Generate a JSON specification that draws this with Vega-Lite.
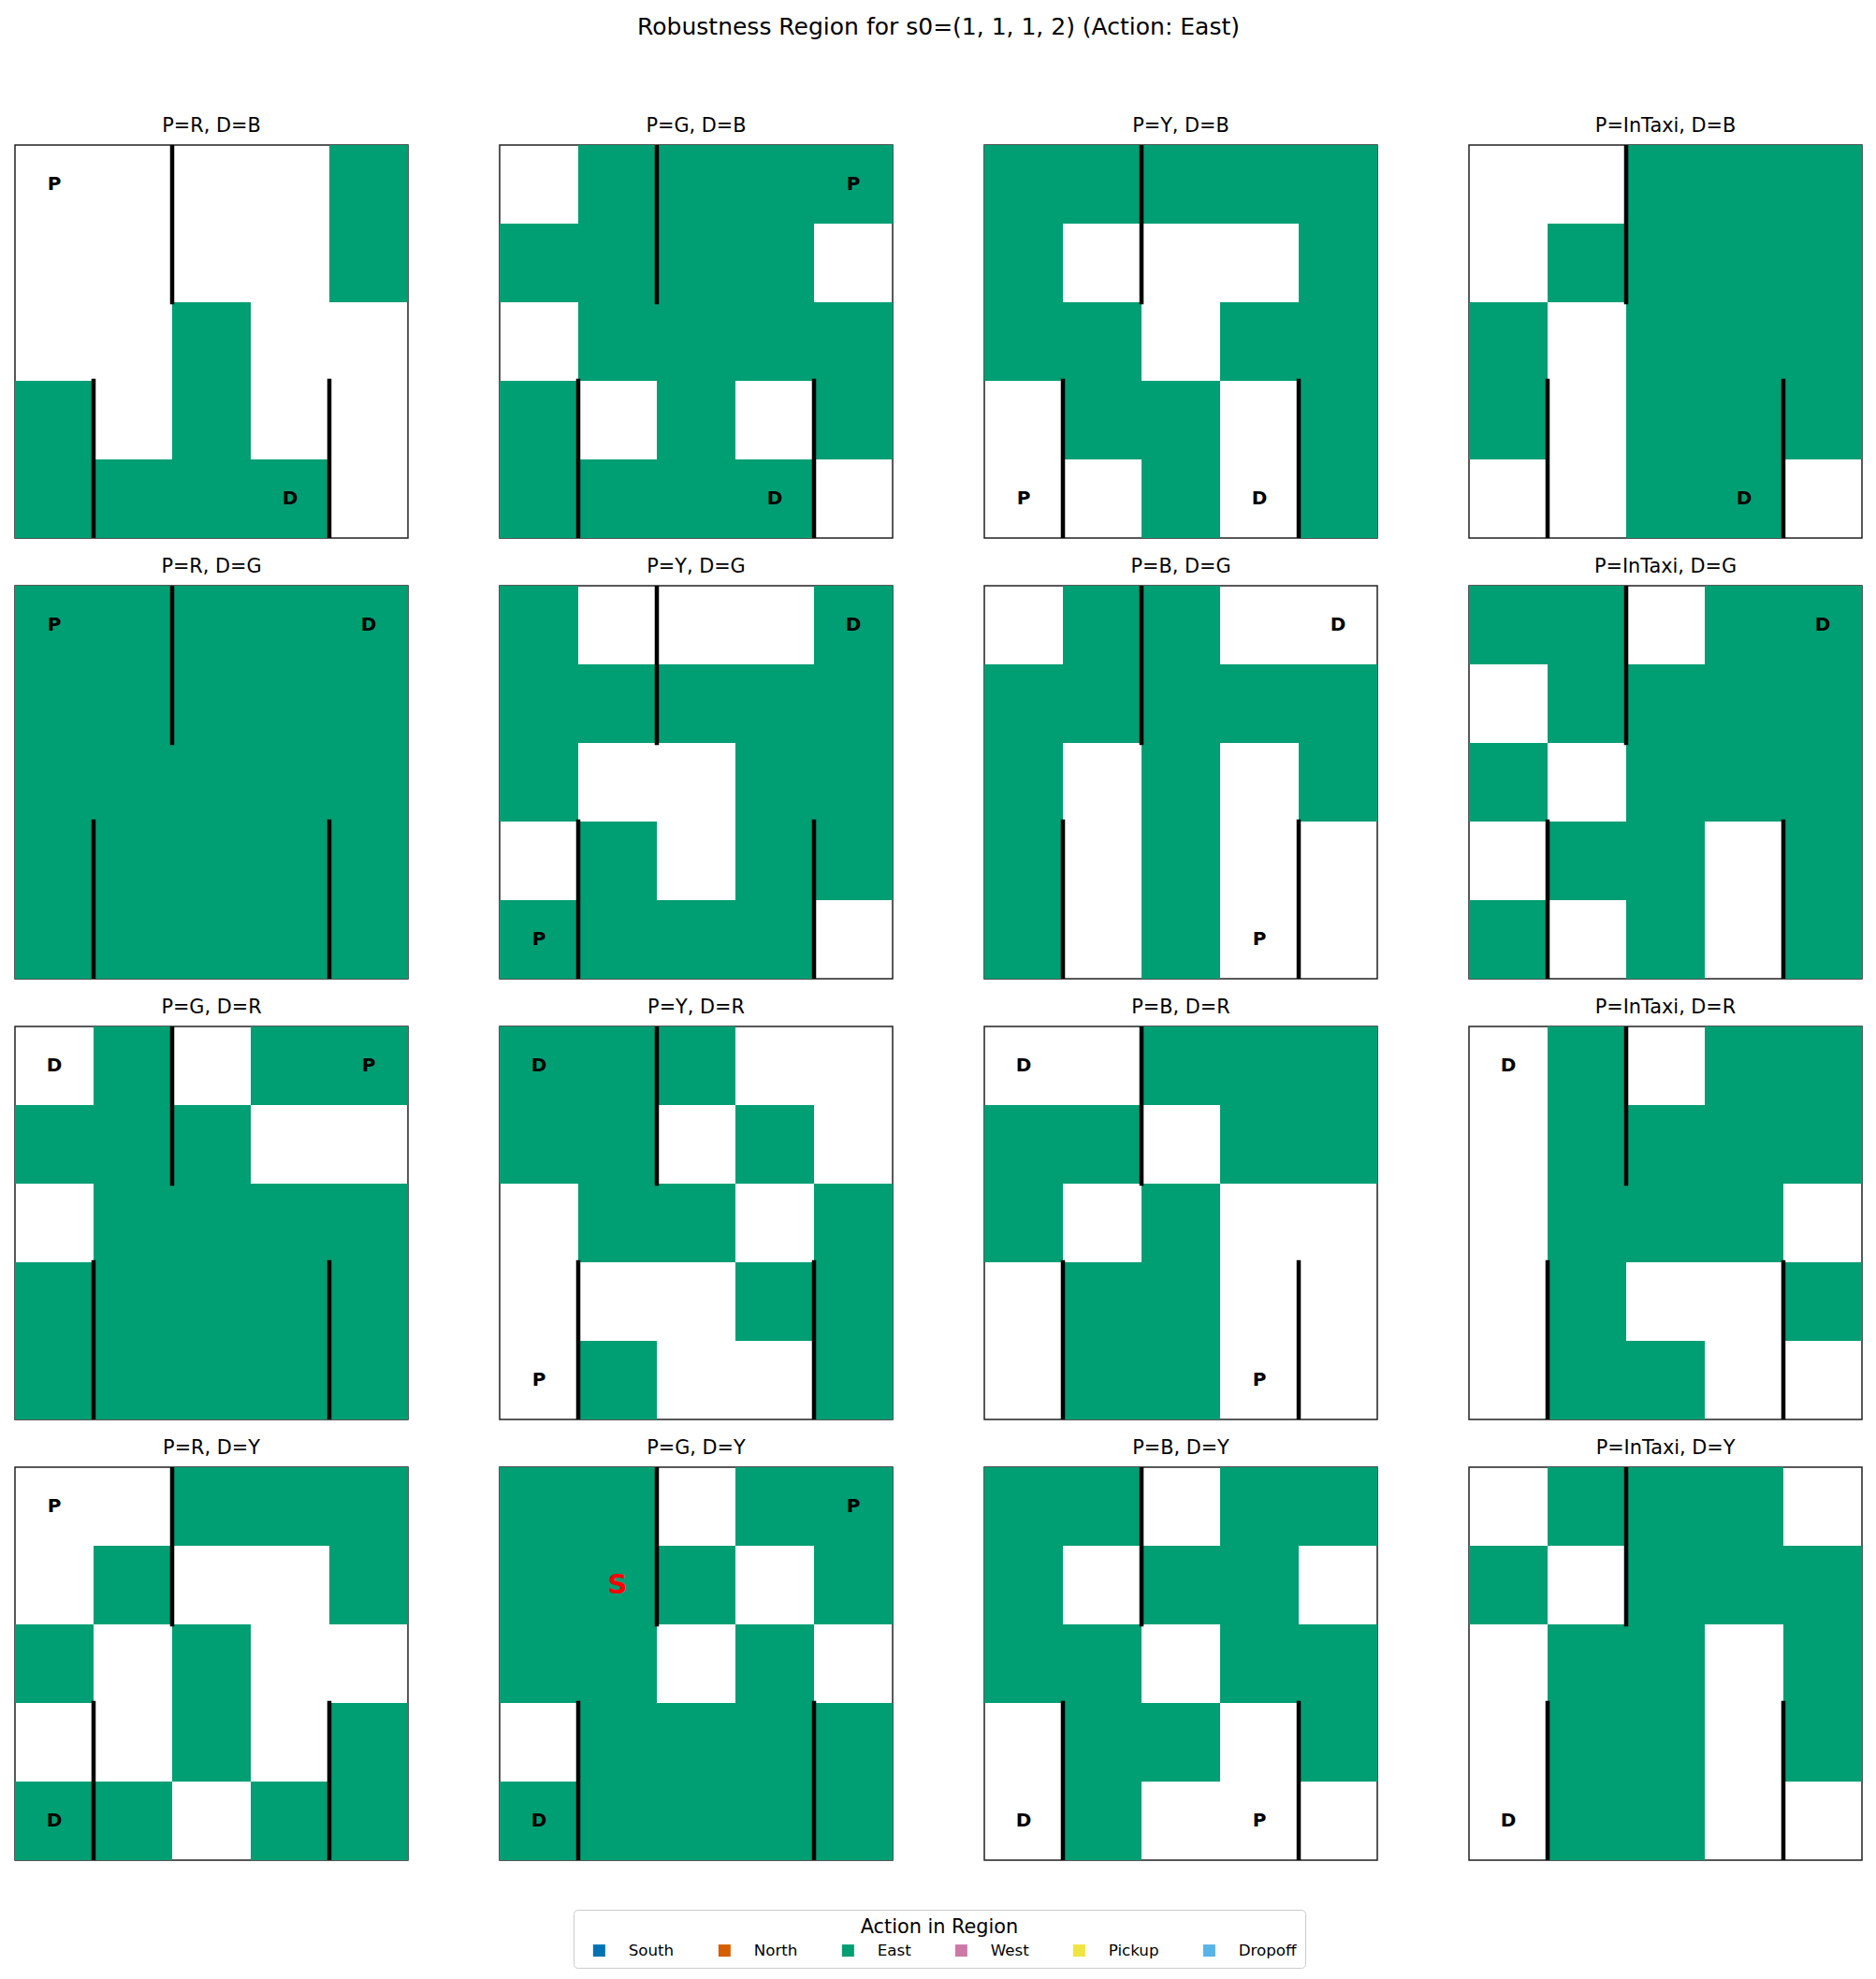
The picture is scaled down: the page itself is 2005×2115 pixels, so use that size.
{
"$schema": "https://vega.github.io/schema/vega-lite/v6.json",
"background": "white",
"padding": {"left": 15, "top": 16, "right": 10, "bottom": 5},
"title": {"text": "Robustness Region for s0=(1, 1, 1, 2) (Action: East)", "fontSize": 25, "font": "DejaVu Sans", "fontWeight": "normal", "color": "black", "anchor": "middle", "offset": 81.5},
"data": {"values": [
{"panel":"P=R, D=B","kind":"cell","row":0,"col":4,"action":"East"},
{"panel":"P=R, D=B","kind":"cell","row":1,"col":4,"action":"East"},
{"panel":"P=R, D=B","kind":"cell","row":2,"col":2,"action":"East"},
{"panel":"P=R, D=B","kind":"cell","row":3,"col":0,"action":"East"},
{"panel":"P=R, D=B","kind":"cell","row":3,"col":2,"action":"East"},
{"panel":"P=R, D=B","kind":"cell","row":4,"col":0,"action":"East"},
{"panel":"P=R, D=B","kind":"cell","row":4,"col":1,"action":"East"},
{"panel":"P=R, D=B","kind":"cell","row":4,"col":2,"action":"East"},
{"panel":"P=R, D=B","kind":"cell","row":4,"col":3,"action":"East"},
{"panel":"P=G, D=B","kind":"cell","row":0,"col":1,"action":"East"},
{"panel":"P=G, D=B","kind":"cell","row":0,"col":2,"action":"East"},
{"panel":"P=G, D=B","kind":"cell","row":0,"col":3,"action":"East"},
{"panel":"P=G, D=B","kind":"cell","row":0,"col":4,"action":"East"},
{"panel":"P=G, D=B","kind":"cell","row":1,"col":0,"action":"East"},
{"panel":"P=G, D=B","kind":"cell","row":1,"col":1,"action":"East"},
{"panel":"P=G, D=B","kind":"cell","row":1,"col":2,"action":"East"},
{"panel":"P=G, D=B","kind":"cell","row":1,"col":3,"action":"East"},
{"panel":"P=G, D=B","kind":"cell","row":2,"col":1,"action":"East"},
{"panel":"P=G, D=B","kind":"cell","row":2,"col":2,"action":"East"},
{"panel":"P=G, D=B","kind":"cell","row":2,"col":3,"action":"East"},
{"panel":"P=G, D=B","kind":"cell","row":2,"col":4,"action":"East"},
{"panel":"P=G, D=B","kind":"cell","row":3,"col":0,"action":"East"},
{"panel":"P=G, D=B","kind":"cell","row":3,"col":2,"action":"East"},
{"panel":"P=G, D=B","kind":"cell","row":3,"col":4,"action":"East"},
{"panel":"P=G, D=B","kind":"cell","row":4,"col":0,"action":"East"},
{"panel":"P=G, D=B","kind":"cell","row":4,"col":1,"action":"East"},
{"panel":"P=G, D=B","kind":"cell","row":4,"col":2,"action":"East"},
{"panel":"P=G, D=B","kind":"cell","row":4,"col":3,"action":"East"},
{"panel":"P=Y, D=B","kind":"cell","row":0,"col":0,"action":"East"},
{"panel":"P=Y, D=B","kind":"cell","row":0,"col":1,"action":"East"},
{"panel":"P=Y, D=B","kind":"cell","row":0,"col":2,"action":"East"},
{"panel":"P=Y, D=B","kind":"cell","row":0,"col":3,"action":"East"},
{"panel":"P=Y, D=B","kind":"cell","row":0,"col":4,"action":"East"},
{"panel":"P=Y, D=B","kind":"cell","row":1,"col":0,"action":"East"},
{"panel":"P=Y, D=B","kind":"cell","row":1,"col":4,"action":"East"},
{"panel":"P=Y, D=B","kind":"cell","row":2,"col":0,"action":"East"},
{"panel":"P=Y, D=B","kind":"cell","row":2,"col":1,"action":"East"},
{"panel":"P=Y, D=B","kind":"cell","row":2,"col":3,"action":"East"},
{"panel":"P=Y, D=B","kind":"cell","row":2,"col":4,"action":"East"},
{"panel":"P=Y, D=B","kind":"cell","row":3,"col":1,"action":"East"},
{"panel":"P=Y, D=B","kind":"cell","row":3,"col":2,"action":"East"},
{"panel":"P=Y, D=B","kind":"cell","row":3,"col":4,"action":"East"},
{"panel":"P=Y, D=B","kind":"cell","row":4,"col":2,"action":"East"},
{"panel":"P=Y, D=B","kind":"cell","row":4,"col":4,"action":"East"},
{"panel":"P=InTaxi, D=B","kind":"cell","row":0,"col":2,"action":"East"},
{"panel":"P=InTaxi, D=B","kind":"cell","row":0,"col":3,"action":"East"},
{"panel":"P=InTaxi, D=B","kind":"cell","row":0,"col":4,"action":"East"},
{"panel":"P=InTaxi, D=B","kind":"cell","row":1,"col":1,"action":"East"},
{"panel":"P=InTaxi, D=B","kind":"cell","row":1,"col":2,"action":"East"},
{"panel":"P=InTaxi, D=B","kind":"cell","row":1,"col":3,"action":"East"},
{"panel":"P=InTaxi, D=B","kind":"cell","row":1,"col":4,"action":"East"},
{"panel":"P=InTaxi, D=B","kind":"cell","row":2,"col":0,"action":"East"},
{"panel":"P=InTaxi, D=B","kind":"cell","row":2,"col":2,"action":"East"},
{"panel":"P=InTaxi, D=B","kind":"cell","row":2,"col":3,"action":"East"},
{"panel":"P=InTaxi, D=B","kind":"cell","row":2,"col":4,"action":"East"},
{"panel":"P=InTaxi, D=B","kind":"cell","row":3,"col":0,"action":"East"},
{"panel":"P=InTaxi, D=B","kind":"cell","row":3,"col":2,"action":"East"},
{"panel":"P=InTaxi, D=B","kind":"cell","row":3,"col":3,"action":"East"},
{"panel":"P=InTaxi, D=B","kind":"cell","row":3,"col":4,"action":"East"},
{"panel":"P=InTaxi, D=B","kind":"cell","row":4,"col":2,"action":"East"},
{"panel":"P=InTaxi, D=B","kind":"cell","row":4,"col":3,"action":"East"},
{"panel":"P=R, D=G","kind":"cell","row":0,"col":0,"action":"East"},
{"panel":"P=R, D=G","kind":"cell","row":0,"col":1,"action":"East"},
{"panel":"P=R, D=G","kind":"cell","row":0,"col":2,"action":"East"},
{"panel":"P=R, D=G","kind":"cell","row":0,"col":3,"action":"East"},
{"panel":"P=R, D=G","kind":"cell","row":0,"col":4,"action":"East"},
{"panel":"P=R, D=G","kind":"cell","row":1,"col":0,"action":"East"},
{"panel":"P=R, D=G","kind":"cell","row":1,"col":1,"action":"East"},
{"panel":"P=R, D=G","kind":"cell","row":1,"col":2,"action":"East"},
{"panel":"P=R, D=G","kind":"cell","row":1,"col":3,"action":"East"},
{"panel":"P=R, D=G","kind":"cell","row":1,"col":4,"action":"East"},
{"panel":"P=R, D=G","kind":"cell","row":2,"col":0,"action":"East"},
{"panel":"P=R, D=G","kind":"cell","row":2,"col":1,"action":"East"},
{"panel":"P=R, D=G","kind":"cell","row":2,"col":2,"action":"East"},
{"panel":"P=R, D=G","kind":"cell","row":2,"col":3,"action":"East"},
{"panel":"P=R, D=G","kind":"cell","row":2,"col":4,"action":"East"},
{"panel":"P=R, D=G","kind":"cell","row":3,"col":0,"action":"East"},
{"panel":"P=R, D=G","kind":"cell","row":3,"col":1,"action":"East"},
{"panel":"P=R, D=G","kind":"cell","row":3,"col":2,"action":"East"},
{"panel":"P=R, D=G","kind":"cell","row":3,"col":3,"action":"East"},
{"panel":"P=R, D=G","kind":"cell","row":3,"col":4,"action":"East"},
{"panel":"P=R, D=G","kind":"cell","row":4,"col":0,"action":"East"},
{"panel":"P=R, D=G","kind":"cell","row":4,"col":1,"action":"East"},
{"panel":"P=R, D=G","kind":"cell","row":4,"col":2,"action":"East"},
{"panel":"P=R, D=G","kind":"cell","row":4,"col":3,"action":"East"},
{"panel":"P=R, D=G","kind":"cell","row":4,"col":4,"action":"East"},
{"panel":"P=Y, D=G","kind":"cell","row":0,"col":0,"action":"East"},
{"panel":"P=Y, D=G","kind":"cell","row":0,"col":4,"action":"East"},
{"panel":"P=Y, D=G","kind":"cell","row":1,"col":0,"action":"East"},
{"panel":"P=Y, D=G","kind":"cell","row":1,"col":1,"action":"East"},
{"panel":"P=Y, D=G","kind":"cell","row":1,"col":2,"action":"East"},
{"panel":"P=Y, D=G","kind":"cell","row":1,"col":3,"action":"East"},
{"panel":"P=Y, D=G","kind":"cell","row":1,"col":4,"action":"East"},
{"panel":"P=Y, D=G","kind":"cell","row":2,"col":0,"action":"East"},
{"panel":"P=Y, D=G","kind":"cell","row":2,"col":3,"action":"East"},
{"panel":"P=Y, D=G","kind":"cell","row":2,"col":4,"action":"East"},
{"panel":"P=Y, D=G","kind":"cell","row":3,"col":1,"action":"East"},
{"panel":"P=Y, D=G","kind":"cell","row":3,"col":3,"action":"East"},
{"panel":"P=Y, D=G","kind":"cell","row":3,"col":4,"action":"East"},
{"panel":"P=Y, D=G","kind":"cell","row":4,"col":0,"action":"East"},
{"panel":"P=Y, D=G","kind":"cell","row":4,"col":1,"action":"East"},
{"panel":"P=Y, D=G","kind":"cell","row":4,"col":2,"action":"East"},
{"panel":"P=Y, D=G","kind":"cell","row":4,"col":3,"action":"East"},
{"panel":"P=B, D=G","kind":"cell","row":0,"col":1,"action":"East"},
{"panel":"P=B, D=G","kind":"cell","row":0,"col":2,"action":"East"},
{"panel":"P=B, D=G","kind":"cell","row":1,"col":0,"action":"East"},
{"panel":"P=B, D=G","kind":"cell","row":1,"col":1,"action":"East"},
{"panel":"P=B, D=G","kind":"cell","row":1,"col":2,"action":"East"},
{"panel":"P=B, D=G","kind":"cell","row":1,"col":3,"action":"East"},
{"panel":"P=B, D=G","kind":"cell","row":1,"col":4,"action":"East"},
{"panel":"P=B, D=G","kind":"cell","row":2,"col":0,"action":"East"},
{"panel":"P=B, D=G","kind":"cell","row":2,"col":2,"action":"East"},
{"panel":"P=B, D=G","kind":"cell","row":2,"col":4,"action":"East"},
{"panel":"P=B, D=G","kind":"cell","row":3,"col":0,"action":"East"},
{"panel":"P=B, D=G","kind":"cell","row":3,"col":2,"action":"East"},
{"panel":"P=B, D=G","kind":"cell","row":4,"col":0,"action":"East"},
{"panel":"P=B, D=G","kind":"cell","row":4,"col":2,"action":"East"},
{"panel":"P=InTaxi, D=G","kind":"cell","row":0,"col":0,"action":"East"},
{"panel":"P=InTaxi, D=G","kind":"cell","row":0,"col":1,"action":"East"},
{"panel":"P=InTaxi, D=G","kind":"cell","row":0,"col":3,"action":"East"},
{"panel":"P=InTaxi, D=G","kind":"cell","row":0,"col":4,"action":"East"},
{"panel":"P=InTaxi, D=G","kind":"cell","row":1,"col":1,"action":"East"},
{"panel":"P=InTaxi, D=G","kind":"cell","row":1,"col":2,"action":"East"},
{"panel":"P=InTaxi, D=G","kind":"cell","row":1,"col":3,"action":"East"},
{"panel":"P=InTaxi, D=G","kind":"cell","row":1,"col":4,"action":"East"},
{"panel":"P=InTaxi, D=G","kind":"cell","row":2,"col":0,"action":"East"},
{"panel":"P=InTaxi, D=G","kind":"cell","row":2,"col":2,"action":"East"},
{"panel":"P=InTaxi, D=G","kind":"cell","row":2,"col":3,"action":"East"},
{"panel":"P=InTaxi, D=G","kind":"cell","row":2,"col":4,"action":"East"},
{"panel":"P=InTaxi, D=G","kind":"cell","row":3,"col":1,"action":"East"},
{"panel":"P=InTaxi, D=G","kind":"cell","row":3,"col":2,"action":"East"},
{"panel":"P=InTaxi, D=G","kind":"cell","row":3,"col":4,"action":"East"},
{"panel":"P=InTaxi, D=G","kind":"cell","row":4,"col":0,"action":"East"},
{"panel":"P=InTaxi, D=G","kind":"cell","row":4,"col":2,"action":"East"},
{"panel":"P=InTaxi, D=G","kind":"cell","row":4,"col":4,"action":"East"},
{"panel":"P=G, D=R","kind":"cell","row":0,"col":1,"action":"East"},
{"panel":"P=G, D=R","kind":"cell","row":0,"col":3,"action":"East"},
{"panel":"P=G, D=R","kind":"cell","row":0,"col":4,"action":"East"},
{"panel":"P=G, D=R","kind":"cell","row":1,"col":0,"action":"East"},
{"panel":"P=G, D=R","kind":"cell","row":1,"col":1,"action":"East"},
{"panel":"P=G, D=R","kind":"cell","row":1,"col":2,"action":"East"},
{"panel":"P=G, D=R","kind":"cell","row":2,"col":1,"action":"East"},
{"panel":"P=G, D=R","kind":"cell","row":2,"col":2,"action":"East"},
{"panel":"P=G, D=R","kind":"cell","row":2,"col":3,"action":"East"},
{"panel":"P=G, D=R","kind":"cell","row":2,"col":4,"action":"East"},
{"panel":"P=G, D=R","kind":"cell","row":3,"col":0,"action":"East"},
{"panel":"P=G, D=R","kind":"cell","row":3,"col":1,"action":"East"},
{"panel":"P=G, D=R","kind":"cell","row":3,"col":2,"action":"East"},
{"panel":"P=G, D=R","kind":"cell","row":3,"col":3,"action":"East"},
{"panel":"P=G, D=R","kind":"cell","row":3,"col":4,"action":"East"},
{"panel":"P=G, D=R","kind":"cell","row":4,"col":0,"action":"East"},
{"panel":"P=G, D=R","kind":"cell","row":4,"col":1,"action":"East"},
{"panel":"P=G, D=R","kind":"cell","row":4,"col":2,"action":"East"},
{"panel":"P=G, D=R","kind":"cell","row":4,"col":3,"action":"East"},
{"panel":"P=G, D=R","kind":"cell","row":4,"col":4,"action":"East"},
{"panel":"P=Y, D=R","kind":"cell","row":0,"col":0,"action":"East"},
{"panel":"P=Y, D=R","kind":"cell","row":0,"col":1,"action":"East"},
{"panel":"P=Y, D=R","kind":"cell","row":0,"col":2,"action":"East"},
{"panel":"P=Y, D=R","kind":"cell","row":1,"col":0,"action":"East"},
{"panel":"P=Y, D=R","kind":"cell","row":1,"col":1,"action":"East"},
{"panel":"P=Y, D=R","kind":"cell","row":1,"col":3,"action":"East"},
{"panel":"P=Y, D=R","kind":"cell","row":2,"col":1,"action":"East"},
{"panel":"P=Y, D=R","kind":"cell","row":2,"col":2,"action":"East"},
{"panel":"P=Y, D=R","kind":"cell","row":2,"col":4,"action":"East"},
{"panel":"P=Y, D=R","kind":"cell","row":3,"col":3,"action":"East"},
{"panel":"P=Y, D=R","kind":"cell","row":3,"col":4,"action":"East"},
{"panel":"P=Y, D=R","kind":"cell","row":4,"col":1,"action":"East"},
{"panel":"P=Y, D=R","kind":"cell","row":4,"col":4,"action":"East"},
{"panel":"P=B, D=R","kind":"cell","row":0,"col":2,"action":"East"},
{"panel":"P=B, D=R","kind":"cell","row":0,"col":3,"action":"East"},
{"panel":"P=B, D=R","kind":"cell","row":0,"col":4,"action":"East"},
{"panel":"P=B, D=R","kind":"cell","row":1,"col":0,"action":"East"},
{"panel":"P=B, D=R","kind":"cell","row":1,"col":1,"action":"East"},
{"panel":"P=B, D=R","kind":"cell","row":1,"col":3,"action":"East"},
{"panel":"P=B, D=R","kind":"cell","row":1,"col":4,"action":"East"},
{"panel":"P=B, D=R","kind":"cell","row":2,"col":0,"action":"East"},
{"panel":"P=B, D=R","kind":"cell","row":2,"col":2,"action":"East"},
{"panel":"P=B, D=R","kind":"cell","row":3,"col":1,"action":"East"},
{"panel":"P=B, D=R","kind":"cell","row":3,"col":2,"action":"East"},
{"panel":"P=B, D=R","kind":"cell","row":4,"col":1,"action":"East"},
{"panel":"P=B, D=R","kind":"cell","row":4,"col":2,"action":"East"},
{"panel":"P=InTaxi, D=R","kind":"cell","row":0,"col":1,"action":"East"},
{"panel":"P=InTaxi, D=R","kind":"cell","row":0,"col":3,"action":"East"},
{"panel":"P=InTaxi, D=R","kind":"cell","row":0,"col":4,"action":"East"},
{"panel":"P=InTaxi, D=R","kind":"cell","row":1,"col":1,"action":"East"},
{"panel":"P=InTaxi, D=R","kind":"cell","row":1,"col":2,"action":"East"},
{"panel":"P=InTaxi, D=R","kind":"cell","row":1,"col":3,"action":"East"},
{"panel":"P=InTaxi, D=R","kind":"cell","row":1,"col":4,"action":"East"},
{"panel":"P=InTaxi, D=R","kind":"cell","row":2,"col":1,"action":"East"},
{"panel":"P=InTaxi, D=R","kind":"cell","row":2,"col":2,"action":"East"},
{"panel":"P=InTaxi, D=R","kind":"cell","row":2,"col":3,"action":"East"},
{"panel":"P=InTaxi, D=R","kind":"cell","row":3,"col":1,"action":"East"},
{"panel":"P=InTaxi, D=R","kind":"cell","row":3,"col":4,"action":"East"},
{"panel":"P=InTaxi, D=R","kind":"cell","row":4,"col":1,"action":"East"},
{"panel":"P=InTaxi, D=R","kind":"cell","row":4,"col":2,"action":"East"},
{"panel":"P=R, D=Y","kind":"cell","row":0,"col":2,"action":"East"},
{"panel":"P=R, D=Y","kind":"cell","row":0,"col":3,"action":"East"},
{"panel":"P=R, D=Y","kind":"cell","row":0,"col":4,"action":"East"},
{"panel":"P=R, D=Y","kind":"cell","row":1,"col":1,"action":"East"},
{"panel":"P=R, D=Y","kind":"cell","row":1,"col":4,"action":"East"},
{"panel":"P=R, D=Y","kind":"cell","row":2,"col":0,"action":"East"},
{"panel":"P=R, D=Y","kind":"cell","row":2,"col":2,"action":"East"},
{"panel":"P=R, D=Y","kind":"cell","row":3,"col":2,"action":"East"},
{"panel":"P=R, D=Y","kind":"cell","row":3,"col":4,"action":"East"},
{"panel":"P=R, D=Y","kind":"cell","row":4,"col":0,"action":"East"},
{"panel":"P=R, D=Y","kind":"cell","row":4,"col":1,"action":"East"},
{"panel":"P=R, D=Y","kind":"cell","row":4,"col":3,"action":"East"},
{"panel":"P=R, D=Y","kind":"cell","row":4,"col":4,"action":"East"},
{"panel":"P=G, D=Y","kind":"cell","row":0,"col":0,"action":"East"},
{"panel":"P=G, D=Y","kind":"cell","row":0,"col":1,"action":"East"},
{"panel":"P=G, D=Y","kind":"cell","row":0,"col":3,"action":"East"},
{"panel":"P=G, D=Y","kind":"cell","row":0,"col":4,"action":"East"},
{"panel":"P=G, D=Y","kind":"cell","row":1,"col":0,"action":"East"},
{"panel":"P=G, D=Y","kind":"cell","row":1,"col":1,"action":"East"},
{"panel":"P=G, D=Y","kind":"cell","row":1,"col":2,"action":"East"},
{"panel":"P=G, D=Y","kind":"cell","row":1,"col":4,"action":"East"},
{"panel":"P=G, D=Y","kind":"cell","row":2,"col":0,"action":"East"},
{"panel":"P=G, D=Y","kind":"cell","row":2,"col":1,"action":"East"},
{"panel":"P=G, D=Y","kind":"cell","row":2,"col":3,"action":"East"},
{"panel":"P=G, D=Y","kind":"cell","row":3,"col":1,"action":"East"},
{"panel":"P=G, D=Y","kind":"cell","row":3,"col":2,"action":"East"},
{"panel":"P=G, D=Y","kind":"cell","row":3,"col":3,"action":"East"},
{"panel":"P=G, D=Y","kind":"cell","row":3,"col":4,"action":"East"},
{"panel":"P=G, D=Y","kind":"cell","row":4,"col":0,"action":"East"},
{"panel":"P=G, D=Y","kind":"cell","row":4,"col":1,"action":"East"},
{"panel":"P=G, D=Y","kind":"cell","row":4,"col":2,"action":"East"},
{"panel":"P=G, D=Y","kind":"cell","row":4,"col":3,"action":"East"},
{"panel":"P=G, D=Y","kind":"cell","row":4,"col":4,"action":"East"},
{"panel":"P=B, D=Y","kind":"cell","row":0,"col":0,"action":"East"},
{"panel":"P=B, D=Y","kind":"cell","row":0,"col":1,"action":"East"},
{"panel":"P=B, D=Y","kind":"cell","row":0,"col":3,"action":"East"},
{"panel":"P=B, D=Y","kind":"cell","row":0,"col":4,"action":"East"},
{"panel":"P=B, D=Y","kind":"cell","row":1,"col":0,"action":"East"},
{"panel":"P=B, D=Y","kind":"cell","row":1,"col":2,"action":"East"},
{"panel":"P=B, D=Y","kind":"cell","row":1,"col":3,"action":"East"},
{"panel":"P=B, D=Y","kind":"cell","row":2,"col":0,"action":"East"},
{"panel":"P=B, D=Y","kind":"cell","row":2,"col":1,"action":"East"},
{"panel":"P=B, D=Y","kind":"cell","row":2,"col":3,"action":"East"},
{"panel":"P=B, D=Y","kind":"cell","row":2,"col":4,"action":"East"},
{"panel":"P=B, D=Y","kind":"cell","row":3,"col":1,"action":"East"},
{"panel":"P=B, D=Y","kind":"cell","row":3,"col":2,"action":"East"},
{"panel":"P=B, D=Y","kind":"cell","row":3,"col":4,"action":"East"},
{"panel":"P=B, D=Y","kind":"cell","row":4,"col":1,"action":"East"},
{"panel":"P=InTaxi, D=Y","kind":"cell","row":0,"col":1,"action":"East"},
{"panel":"P=InTaxi, D=Y","kind":"cell","row":0,"col":2,"action":"East"},
{"panel":"P=InTaxi, D=Y","kind":"cell","row":0,"col":3,"action":"East"},
{"panel":"P=InTaxi, D=Y","kind":"cell","row":1,"col":0,"action":"East"},
{"panel":"P=InTaxi, D=Y","kind":"cell","row":1,"col":2,"action":"East"},
{"panel":"P=InTaxi, D=Y","kind":"cell","row":1,"col":3,"action":"East"},
{"panel":"P=InTaxi, D=Y","kind":"cell","row":1,"col":4,"action":"East"},
{"panel":"P=InTaxi, D=Y","kind":"cell","row":2,"col":1,"action":"East"},
{"panel":"P=InTaxi, D=Y","kind":"cell","row":2,"col":2,"action":"East"},
{"panel":"P=InTaxi, D=Y","kind":"cell","row":2,"col":4,"action":"East"},
{"panel":"P=InTaxi, D=Y","kind":"cell","row":3,"col":1,"action":"East"},
{"panel":"P=InTaxi, D=Y","kind":"cell","row":3,"col":2,"action":"East"},
{"panel":"P=InTaxi, D=Y","kind":"cell","row":3,"col":4,"action":"East"},
{"panel":"P=InTaxi, D=Y","kind":"cell","row":4,"col":1,"action":"East"},
{"panel":"P=InTaxi, D=Y","kind":"cell","row":4,"col":2,"action":"East"},
{"panel":"P=R, D=B","kind":"label","row":0,"col":0,"label":"P"},
{"panel":"P=R, D=B","kind":"label","row":4,"col":3,"label":"D"},
{"panel":"P=G, D=B","kind":"label","row":0,"col":4,"label":"P"},
{"panel":"P=G, D=B","kind":"label","row":4,"col":3,"label":"D"},
{"panel":"P=Y, D=B","kind":"label","row":4,"col":0,"label":"P"},
{"panel":"P=Y, D=B","kind":"label","row":4,"col":3,"label":"D"},
{"panel":"P=InTaxi, D=B","kind":"label","row":4,"col":3,"label":"D"},
{"panel":"P=R, D=G","kind":"label","row":0,"col":0,"label":"P"},
{"panel":"P=R, D=G","kind":"label","row":0,"col":4,"label":"D"},
{"panel":"P=Y, D=G","kind":"label","row":4,"col":0,"label":"P"},
{"panel":"P=Y, D=G","kind":"label","row":0,"col":4,"label":"D"},
{"panel":"P=B, D=G","kind":"label","row":4,"col":3,"label":"P"},
{"panel":"P=B, D=G","kind":"label","row":0,"col":4,"label":"D"},
{"panel":"P=InTaxi, D=G","kind":"label","row":0,"col":4,"label":"D"},
{"panel":"P=G, D=R","kind":"label","row":0,"col":4,"label":"P"},
{"panel":"P=G, D=R","kind":"label","row":0,"col":0,"label":"D"},
{"panel":"P=Y, D=R","kind":"label","row":4,"col":0,"label":"P"},
{"panel":"P=Y, D=R","kind":"label","row":0,"col":0,"label":"D"},
{"panel":"P=B, D=R","kind":"label","row":4,"col":3,"label":"P"},
{"panel":"P=B, D=R","kind":"label","row":0,"col":0,"label":"D"},
{"panel":"P=InTaxi, D=R","kind":"label","row":0,"col":0,"label":"D"},
{"panel":"P=R, D=Y","kind":"label","row":0,"col":0,"label":"P"},
{"panel":"P=R, D=Y","kind":"label","row":4,"col":0,"label":"D"},
{"panel":"P=G, D=Y","kind":"label","row":0,"col":4,"label":"P"},
{"panel":"P=G, D=Y","kind":"label","row":4,"col":0,"label":"D"},
{"panel":"P=G, D=Y","kind":"label","row":1,"col":1,"label":"S"},
{"panel":"P=B, D=Y","kind":"label","row":4,"col":3,"label":"P"},
{"panel":"P=B, D=Y","kind":"label","row":4,"col":0,"label":"D"},
{"panel":"P=InTaxi, D=Y","kind":"label","row":4,"col":0,"label":"D"},
{"panel":"P=R, D=B","kind":"wall","x":2,"y":0,"y2":2},{"panel":"P=R, D=B","kind":"wall","x":1,"y":3,"y2":5},{"panel":"P=R, D=B","kind":"wall","x":4,"y":3,"y2":5},
{"panel":"P=G, D=B","kind":"wall","x":2,"y":0,"y2":2},{"panel":"P=G, D=B","kind":"wall","x":1,"y":3,"y2":5},{"panel":"P=G, D=B","kind":"wall","x":4,"y":3,"y2":5},
{"panel":"P=Y, D=B","kind":"wall","x":2,"y":0,"y2":2},{"panel":"P=Y, D=B","kind":"wall","x":1,"y":3,"y2":5},{"panel":"P=Y, D=B","kind":"wall","x":4,"y":3,"y2":5},
{"panel":"P=InTaxi, D=B","kind":"wall","x":2,"y":0,"y2":2},{"panel":"P=InTaxi, D=B","kind":"wall","x":1,"y":3,"y2":5},{"panel":"P=InTaxi, D=B","kind":"wall","x":4,"y":3,"y2":5},
{"panel":"P=R, D=G","kind":"wall","x":2,"y":0,"y2":2},{"panel":"P=R, D=G","kind":"wall","x":1,"y":3,"y2":5},{"panel":"P=R, D=G","kind":"wall","x":4,"y":3,"y2":5},
{"panel":"P=Y, D=G","kind":"wall","x":2,"y":0,"y2":2},{"panel":"P=Y, D=G","kind":"wall","x":1,"y":3,"y2":5},{"panel":"P=Y, D=G","kind":"wall","x":4,"y":3,"y2":5},
{"panel":"P=B, D=G","kind":"wall","x":2,"y":0,"y2":2},{"panel":"P=B, D=G","kind":"wall","x":1,"y":3,"y2":5},{"panel":"P=B, D=G","kind":"wall","x":4,"y":3,"y2":5},
{"panel":"P=InTaxi, D=G","kind":"wall","x":2,"y":0,"y2":2},{"panel":"P=InTaxi, D=G","kind":"wall","x":1,"y":3,"y2":5},{"panel":"P=InTaxi, D=G","kind":"wall","x":4,"y":3,"y2":5},
{"panel":"P=G, D=R","kind":"wall","x":2,"y":0,"y2":2},{"panel":"P=G, D=R","kind":"wall","x":1,"y":3,"y2":5},{"panel":"P=G, D=R","kind":"wall","x":4,"y":3,"y2":5},
{"panel":"P=Y, D=R","kind":"wall","x":2,"y":0,"y2":2},{"panel":"P=Y, D=R","kind":"wall","x":1,"y":3,"y2":5},{"panel":"P=Y, D=R","kind":"wall","x":4,"y":3,"y2":5},
{"panel":"P=B, D=R","kind":"wall","x":2,"y":0,"y2":2},{"panel":"P=B, D=R","kind":"wall","x":1,"y":3,"y2":5},{"panel":"P=B, D=R","kind":"wall","x":4,"y":3,"y2":5},
{"panel":"P=InTaxi, D=R","kind":"wall","x":2,"y":0,"y2":2},{"panel":"P=InTaxi, D=R","kind":"wall","x":1,"y":3,"y2":5},{"panel":"P=InTaxi, D=R","kind":"wall","x":4,"y":3,"y2":5},
{"panel":"P=R, D=Y","kind":"wall","x":2,"y":0,"y2":2},{"panel":"P=R, D=Y","kind":"wall","x":1,"y":3,"y2":5},{"panel":"P=R, D=Y","kind":"wall","x":4,"y":3,"y2":5},
{"panel":"P=G, D=Y","kind":"wall","x":2,"y":0,"y2":2},{"panel":"P=G, D=Y","kind":"wall","x":1,"y":3,"y2":5},{"panel":"P=G, D=Y","kind":"wall","x":4,"y":3,"y2":5},
{"panel":"P=B, D=Y","kind":"wall","x":2,"y":0,"y2":2},{"panel":"P=B, D=Y","kind":"wall","x":1,"y":3,"y2":5},{"panel":"P=B, D=Y","kind":"wall","x":4,"y":3,"y2":5},
{"panel":"P=InTaxi, D=Y","kind":"wall","x":2,"y":0,"y2":2},{"panel":"P=InTaxi, D=Y","kind":"wall","x":1,"y":3,"y2":5},{"panel":"P=InTaxi, D=Y","kind":"wall","x":4,"y":3,"y2":5}
]},
"facet": {"field": "panel", "type": "nominal", "title": null,
  "sort": ["P=R, D=B","P=G, D=B","P=Y, D=B","P=InTaxi, D=B","P=R, D=G","P=Y, D=G","P=B, D=G","P=InTaxi, D=G","P=G, D=R","P=Y, D=R","P=B, D=R","P=InTaxi, D=R","P=R, D=Y","P=G, D=Y","P=B, D=Y","P=InTaxi, D=Y"],
  "header": {"labelFontSize": 20.8, "labelFont": "DejaVu Sans", "labelColor": "black", "labelPadding": 9}},
"columns": 4,
"spacing": {"row": 18, "column": 96},
"spec": {
  "width": 420, "height": 420,
  "layer": [
    {"transform": [{"filter": "datum.kind === 'cell'"}],
     "mark": {"type": "rect", "strokeWidth": 0},
     "encoding": {
       "x": {"field": "col", "type": "ordinal", "scale": {"domain": [0,1,2,3,4], "paddingInner": 0, "paddingOuter": 0}, "axis": null},
       "y": {"field": "row", "type": "ordinal", "scale": {"domain": [0,1,2,3,4], "paddingInner": 0, "paddingOuter": 0}, "axis": null},
       "color": {"field": "action", "type": "nominal",
         "scale": {"domain": ["South","North","East","West","Pickup","Dropoff"], "range": ["#0072B2","#D55E00","#009E73","#CC79A7","#F0E442","#56B4E9"]},
         "legend": {"title": "Action in Region", "orient": "none", "legendX": 597, "legendY": 1886, "direction": "horizontal", "columns": 6,
           "titleAnchor": "middle", "titleFontSize": 20.8, "titleFontWeight": "normal", "titleFont": "DejaVu Sans", "titleColor": "black", "titlePadding": 5,
           "labelFontSize": 16.7, "labelFont": "DejaVu Sans", "labelColor": "black", "labelOffset": 23, "columnPadding": 35,
           "symbolType": "square", "symbolSize": 169, "symbolStrokeWidth": 0, "symbolOpacity": 1, "symbolOffset": 10,
           "padding": 9, "strokeColor": "#cccccc", "cornerRadius": 4, "fillColor": "white"}}
     }},
    {"transform": [{"filter": "datum.kind === 'wall'"}],
     "mark": {"type": "rule", "color": "black", "strokeWidth": 4.5, "strokeCap": "square", "clip": true},
     "encoding": {
       "x": {"field": "x", "type": "quantitative", "scale": {"domain": [0,5], "nice": false, "zero": false}, "axis": null},
       "y": {"field": "y", "type": "quantitative", "scale": {"domain": [0,5], "nice": false, "zero": false, "reverse": true}, "axis": null},
       "y2": {"field": "y2"}
     }},
    {"transform": [{"filter": "datum.kind === 'label' && datum.label !== 'S'"}],
     "mark": {"type": "text", "fontWeight": "bold", "fontSize": 20, "font": "DejaVu Sans", "color": "black", "align": "center", "baseline": "middle"},
     "encoding": {
       "x": {"field": "col", "type": "ordinal", "scale": {"domain": [0,1,2,3,4], "paddingInner": 0, "paddingOuter": 0}, "axis": null},
       "y": {"field": "row", "type": "ordinal", "scale": {"domain": [0,1,2,3,4], "paddingInner": 0, "paddingOuter": 0}, "axis": null},
       "text": {"field": "label"}
     }},
    {"transform": [{"filter": "datum.kind === 'label' && datum.label === 'S'"}],
     "mark": {"type": "text", "fontWeight": "bold", "fontSize": 29, "font": "DejaVu Sans", "color": "#FF0000", "align": "center", "baseline": "middle"},
     "encoding": {
       "x": {"field": "col", "type": "ordinal", "scale": {"domain": [0,1,2,3,4], "paddingInner": 0, "paddingOuter": 0}, "axis": null},
       "y": {"field": "row", "type": "ordinal", "scale": {"domain": [0,1,2,3,4], "paddingInner": 0, "paddingOuter": 0}, "axis": null},
       "text": {"field": "label"}
     }}
  ],
  "resolve": {"scale": {"x": "independent", "y": "independent"}}
},
"config": {
  "font": "DejaVu Sans",
  "view": {"stroke": "#222222", "strokeWidth": 1.5}
}
}
